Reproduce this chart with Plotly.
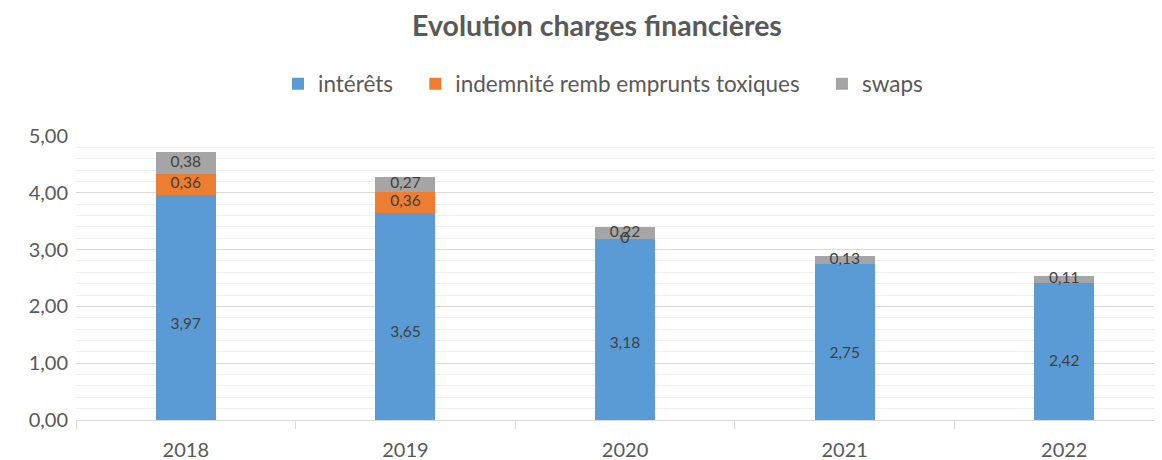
import plotly.graph_objects as go

years = ["2018", "2019", "2020", "2021", "2022"]
interets = [3.97, 3.65, 3.18, 2.75, 2.42]
indemnite = [0.36, 0.36, 0, None, None]
swaps = [0.38, 0.27, 0.22, 0.13, 0.11]

series_names = ["intérêts", "indemnité remb emprunts toxiques", "swaps"]
colors = ["#5B9BD5", "#ED7D31", "#A5A5A5"]


def fmt(v):
    if v is None:
        return ""
    if v == 0:
        return "0"
    return f"{v:.2f}".replace(".", ",")


FONT = "Lato, 'Open Sans', sans-serif"
NB = "\u00a0\u00a0\u00a0"
fig = go.Figure()
series = [interets, indemnite, swaps]
for k, (name, vals, col) in enumerate(zip(series_names, series, colors)):
    fig.add_trace(go.Bar(
        x=years, y=[0 if v is None else v for v in vals],
        name=name + (NB if k < 2 else ""),
        marker=dict(color=col, line=dict(width=0)), hoverinfo="skip",
    ))

# data labels (positioned from the stacked values)
base = [0.0] * len(years)
for i, vals in enumerate(series):
    xs, ys, ts = [], [], []
    for j, v in enumerate(vals):
        if v is None:
            continue
        frac = 0.42 if i == 0 else 0.5
        xs.append(years[j])
        ys.append(base[j] + v * frac)
        ts.append(fmt(v))
        base[j] += v
    fig.add_trace(go.Scatter(
        x=xs, y=ys, text=ts, mode="text", showlegend=False, hoverinfo="skip",
        textfont=dict(color="#404040", size=15.5, family=FONT), cliponaxis=False,
    ))

W, H = 1154, 452  # page body adds an 8px offset
fig.update_layout(
    barmode="stack", bargap=0.727,
    width=W, height=H,
    margin=dict(l=68, r=0, t=128, b=40),
    paper_bgcolor="white", plot_bgcolor="white",
    separators=", ",
    font=dict(family=FONT, color="#595959", size=20),
    title=dict(text="<b>Evolution charges financières</b>", x=(597 - 8) / W, xanchor="center",
               y=1 - 18 / H, yanchor="middle", yref="container",
               font=dict(size=28.5, color="#595959", family=FONT)),
    legend=dict(orientation="h", x=(568 - 8) / W, xanchor="center", y=1 - 76 / H, yanchor="middle",
                yref="container", font=dict(size=22.5, color="#595959"),
                traceorder="normal", itemwidth=30),
    xaxis=dict(range=[-0.5, 4.445], showgrid=False, showline=True, linecolor="#d9d9d9",
               linewidth=1, ticks="outside", tickson="boundaries", ticklen=8,
               tickcolor="#d9d9d9", tickfont=dict(size=20, color="#595959"),
               ticklabelstandoff=12),
    yaxis=dict(range=[0, 5], dtick=1, tickformat=".2f", showgrid=True, gridcolor="#d9d9d9",
               gridwidth=1, zeroline=False, showline=False, ticks="",
               minor=dict(dtick=0.2, showgrid=True, gridcolor="#efefef", gridwidth=1),
               tickfont=dict(size=20, color="#595959"), ticklabelstandoff=7),
)

fig.write_html("out.html")
